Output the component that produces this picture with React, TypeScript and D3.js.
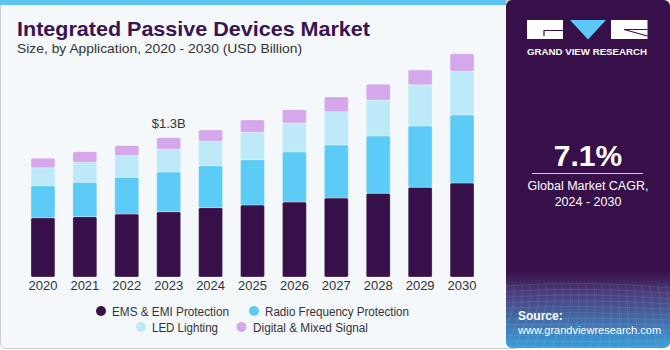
import React, { useEffect, useRef } from "react";
import * as d3 from "d3";

const years = ["2020", "2021", "2022", "2023", "2024", "2025", "2026", "2027", "2028", "2029", "2030"];
const emsEmi = [0.553, 0.563, 0.588, 0.609, 0.647, 0.672, 0.7, 0.737, 0.781, 0.837, 0.877];
const radioFreq = [0.299, 0.321, 0.343, 0.371, 0.392, 0.423, 0.467, 0.495, 0.535, 0.572, 0.635];
const ledLighting = [0.168, 0.187, 0.202, 0.215, 0.228, 0.256, 0.271, 0.311, 0.336, 0.385, 0.408];
const digitalMixed = [0.088, 0.099, 0.093, 0.105, 0.105, 0.115, 0.124, 0.137, 0.147, 0.137, 0.164];

const seriesNames = ["EMS & EMI Protection", "Radio Frequency Protection", "LED Lighting", "Digital & Mixed Signal"];
const seriesColors = ["#37104a", "#5ccbf5", "#bde9f9", "#d4a8ea"];

const FONT = "'Liberation Sans', Arial, sans-serif";

const App = () => {
  const svgRef = useRef<SVGSVGElement>(null);

  useEffect(() => {
    const svg = d3.select(svgRef.current);
    svg.selectAll("*").remove();

    const height = 350;

    // card background
    svg.append("rect")
      .attr("x", 0.5).attr("y", 0.5)
      .attr("width", 520).attr("height", height - 2)
      .attr("rx", 5)
      .attr("fill", "#f4f8fb")
      .attr("stroke", "#c9cdd1");
    svg.append("rect")
      .attr("x", 0).attr("y", 0)
      .attr("width", 506).attr("height", 5)
      .attr("fill", "#5bc4ef");

    // right panel
    const defs = svg.append("defs");
    const grad = defs.append("linearGradient")
      .attr("id", "panelGrad").attr("x1", 0).attr("y1", 0).attr("x2", 0).attr("y2", 1);
    grad.append("stop").attr("offset", "0").attr("stop-color", "#37104a");
    grad.append("stop").attr("offset", "0.78").attr("stop-color", "#37104a");
    grad.append("stop").attr("offset", "0.84").attr("stop-color", "#4b3b78");
    grad.append("stop").attr("offset", "1").attr("stop-color", "#3a9fdb");
    defs.append("clipPath").attr("id", "panelClip")
      .append("rect").attr("x", 506).attr("y", 0).attr("width", 164).attr("height", 348).attr("rx", 6);

    const panel = svg.append("g").attr("clip-path", "url(#panelClip)");
    panel.append("rect")
      .attr("x", 500).attr("y", 0).attr("width", 170).attr("height", 348)
      .attr("fill", "url(#panelGrad)");
    // faint grid at the bottom of the panel
    const grid = panel.append("g").attr("stroke", "#9ec9ea").attr("stroke-opacity", 0.25).attr("stroke-width", 0.6).attr("fill", "none");
    d3.range(0, 12).forEach(i => {
      grid.append("path").attr("d", `M506,${286 + i * 5.5} Q588,${280 + i * 6.2} 670,${288 + i * 5.3}`);
    });
    d3.range(0, 22).forEach(i => {
      const x = 506 + i * 8;
      grid.append("path").attr("d", `M${x},284 Q${x + 3},315 ${x - 4 + (i - 11) * 1.5},348`);
    });

    // logo
    const logo = svg.append("g");
    logo.append("rect").attr("x", 527).attr("y", 20).attr("width", 36).attr("height", 19).attr("fill", "#fff");
    logo.append("path").attr("d", "M563,30.5 H544 V36").attr("stroke", "#37104a").attr("stroke-width", 1.2).attr("fill", "none");
    logo.append("path").attr("d", "M570,20 L606,20 L588,39.5 Z").attr("fill", "#5bc8f5");
    logo.append("rect").attr("x", 611).attr("y", 20).attr("width", 36.5).attr("height", 19).attr("fill", "#fff");
    logo.append("path").attr("d", "M647.5,29.5 H624 L647.5,36").attr("stroke", "#37104a").attr("stroke-width", 1.2).attr("fill", "none");
    logo.append("text")
      .attr("x", 527).attr("y", 54.5)
      .attr("textLength", 120).attr("lengthAdjust", "spacingAndGlyphs")
      .style("font-family", FONT).style("font-size", "9.5px").style("font-weight", "bold")
      .style("fill", "#fff")
      .text("GRAND VIEW RESEARCH");

    svg.append("text")
      .attr("x", 588).attr("y", 166)
      .attr("text-anchor", "middle")
      .style("font-family", FONT).style("font-size", "30px").style("font-weight", "bold")
      .style("fill", "#fff")
      .text("7.1%");
    svg.append("line")
      .attr("x1", 532).attr("x2", 643).attr("y1", 173.5).attr("y2", 173.5)
      .attr("stroke", "#d8cde0").attr("stroke-width", 1);
    svg.append("text")
      .attr("x", 588).attr("y", 190)
      .attr("text-anchor", "middle")
      .style("font-family", FONT).style("font-size", "12.5px")
      .style("fill", "#fff")
      .text("Global Market CAGR,");
    svg.append("text")
      .attr("x", 588).attr("y", 205.5)
      .attr("text-anchor", "middle")
      .style("font-family", FONT).style("font-size", "12.5px")
      .style("fill", "#fff")
      .text("2024 - 2030");
    svg.append("text")
      .attr("x", 518).attr("y", 320)
      .style("font-family", FONT).style("font-size", "12px").style("font-weight", "bold")
      .style("fill", "#fff")
      .text("Source:");
    svg.append("text")
      .attr("x", 518).attr("y", 334)
      .style("font-family", FONT).style("font-size", "11px")
      .style("fill", "#fff")
      .text("www.grandviewresearch.com");

    // title
    svg.append("text")
      .attr("x", 17).attr("y", 36)
      .attr("textLength", 353).attr("lengthAdjust", "spacingAndGlyphs")
      .style("font-family", FONT).style("font-size", "21px").style("font-weight", "900")
      .style("fill", "#3a1350")
      .text("Integrated Passive Devices Market");
    svg.append("text")
      .attr("x", 17).attr("y", 53)
      .attr("textLength", 285).attr("lengthAdjust", "spacingAndGlyphs")
      .style("font-family", FONT).style("font-size", "13.5px")
      .style("fill", "#333")
      .text("Size, by Application, 2020 - 2030 (USD Billion)");

    // stacked bars
    const rows = years.map((y, i) => ({
      year: y,
      ems: emsEmi[i],
      rf: radioFreq[i],
      led: ledLighting[i],
      dig: digitalMixed[i],
    }));
    const keys = ["ems", "rf", "led", "dig"];
    const stacked = d3.stack<any>().keys(keys)(rows);

    const xScale = d3.scaleBand()
      .domain(years)
      .range([22, 483])
      .paddingInner(0.43)
      .paddingOuter(0.215);

    const baseline = 277;
    const yScale = d3.scaleLinear()
      .domain([0, 1.3])
      .range([baseline, 137.7]);

    stacked.forEach((layer, li) => {
      svg.append("g")
        .selectAll("rect")
        .data(layer)
        .enter()
        .append("rect")
        .attr("x", d => xScale(d.data.year) as number)
        .attr("y", d => yScale(d[1]))
        .attr("width", xScale.bandwidth())
        .attr("height", d => yScale(d[0]) - yScale(d[1]))
        .attr("rx", 1.5)
        .attr("fill", seriesColors[li])
        .attr("stroke", "#ffffff")
        .attr("stroke-opacity", 0.45)
        .attr("stroke-width", 0.6);
    });

    // x axis labels
    const xAxis = svg.append("g")
      .attr("transform", `translate(0,${baseline})`)
      .call(d3.axisBottom(xScale).tickSize(0).tickPadding(4));
    xAxis.select(".domain").remove();
    xAxis.selectAll("text")
      .style("font-family", FONT).style("font-size", "13px")
      .style("fill", "#333");

    // annotation
    const i2023 = years.indexOf("2023");
    const total2023 = emsEmi[i2023] + radioFreq[i2023] + ledLighting[i2023] + digitalMixed[i2023];
    svg.append("text")
      .attr("x", (xScale("2023") as number) + xScale.bandwidth() / 2)
      .attr("y", yScale(total2023) - 10)
      .attr("text-anchor", "middle")
      .style("font-family", FONT).style("font-size", "13px")
      .style("fill", "#333")
      .text(`$${total2023.toFixed(1)}B`);

    // legend
    const legendPos = [
      { cx: 101, cy: 311, tx: 112, w: 117 },
      { cx: 254, cy: 311, tx: 265, w: 144 },
      { cx: 141, cy: 327, tx: 152, w: 66 },
      { cx: 241.5, cy: 327, tx: 253, w: 115 },
    ];
    const legend = svg.append("g");
    seriesNames.forEach((name, i) => {
      const p = legendPos[i];
      legend.append("circle")
        .attr("cx", p.cx).attr("cy", p.cy).attr("r", 5)
        .attr("fill", seriesColors[i]);
      legend.append("text")
        .attr("x", p.tx).attr("y", p.cy + 4.5)
        .attr("textLength", p.w).attr("lengthAdjust", "spacingAndGlyphs")
        .style("font-family", FONT).style("font-size", "12.5px")
        .style("fill", "#333")
        .text(name);
    });
  }, []);

  return (
    <svg
      ref={svgRef}
      width={670}
      height={350}
      style={{ position: "absolute", left: 0, top: 0, background: "#ffffff" }}
    />
  );
};

export default App;
